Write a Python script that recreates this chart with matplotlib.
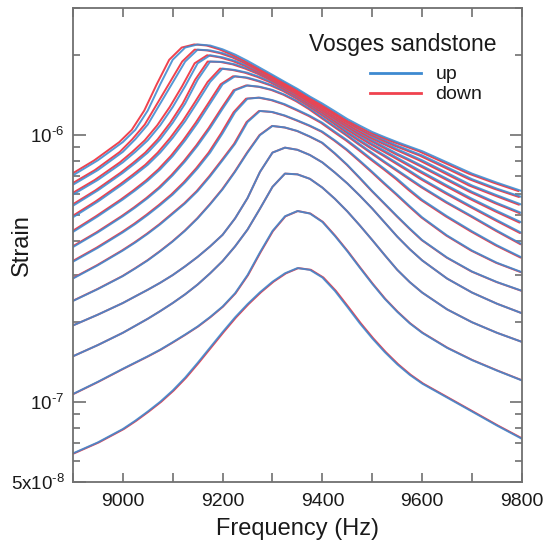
import numpy as np
import matplotlib
matplotlib.use("Agg")
import matplotlib.pyplot as plt
from matplotlib.lines import Line2D
from matplotlib.ticker import FixedLocator, FixedFormatter, MultipleLocator, NullFormatter

plt.rcParams['font.family'] = ['Liberation Sans', 'DejaVu Sans']
plt.rcParams['mathtext.fontset'] = 'custom'
plt.rcParams['mathtext.rm'] = 'Liberation Sans'
plt.rcParams['mathtext.it'] = 'Liberation Sans:italic'
plt.rcParams['mathtext.bf'] = 'Liberation Sans:bold'
plt.rcParams['axes.unicode_minus'] = False

# frequency grid (Hz)
freq = [8900, 8950, 9000, 9025, 9050, 9075, 9100, 9125, 9150, 9175, 9200, 9225, 9250, 9275,
        9300, 9325, 9350, 9375, 9400, 9425, 9450, 9475, 9500, 9525, 9550, 9575, 9600,
        9650, 9700, 9750, 9800]

# strain in units of 1e-7, one list per drive level (lowest first)
strain_1 = [0.640, 0.704, 0.790, 0.849, 0.919, 1.000, 1.102, 1.232, 1.399, 1.598, 1.825, 2.073, 2.324,
            2.576, 2.820, 3.033, 3.173, 3.126, 2.925, 2.607, 2.269, 1.969, 1.729, 1.536, 1.382, 1.262,
            1.170, 1.037, 0.919, 0.814, 0.726]
strain_2 = [1.069, 1.188, 1.329, 1.403, 1.481, 1.568, 1.672, 1.787, 1.916, 2.079, 2.276, 2.553, 2.987,
            3.636, 4.371, 4.963, 5.194, 5.083, 4.728, 4.190, 3.669, 3.183, 2.770, 2.433, 2.175, 1.969,
            1.814, 1.593, 1.433, 1.309, 1.202]
strain_3 = [1.481, 1.632, 1.814, 1.927, 2.048, 2.188, 2.346, 2.530, 2.753, 3.033, 3.371, 3.827, 4.425,
            5.304, 6.400, 7.176, 7.130, 6.859, 6.359, 5.773, 5.177, 4.587, 4.041, 3.548, 3.126, 2.812,
            2.568, 2.221, 1.987, 1.814, 1.677]
strain_4 = [1.933, 2.122, 2.346, 2.485, 2.631, 2.795, 2.987, 3.222, 3.495, 3.827, 4.229, 4.874, 5.808,
            7.286, 8.604, 8.980, 8.815, 8.426, 7.905, 7.243, 6.593, 5.931, 5.304, 4.700, 4.165, 3.737,
            3.391, 2.898, 2.568, 2.332, 2.148]
strain_5 = [2.388, 2.647, 2.960, 3.163, 3.391, 3.669, 3.992, 4.384, 4.874, 5.500, 6.264, 7.286, 8.604,
            10.01, 10.83, 10.69, 10.37, 9.887, 9.365, 8.553, 7.741, 6.921, 6.170, 5.535, 4.963, 4.466,
            4.041, 3.474, 3.079, 2.812, 2.607]
strain_6 = [2.898, 3.251, 3.691, 3.957, 4.267, 4.630, 5.069, 5.551, 6.170, 7.005, 8.051, 9.280, 11.20,
            12.33, 12.22, 11.85, 11.36, 10.86, 10.31, 9.566, 8.815, 8.024, 7.286, 6.593, 5.986, 5.417,
            4.919, 4.204, 3.691, 3.321, 3.061]
strain_7 = [3.351, 3.781, 4.319, 4.642, 5.023, 5.467, 5.986, 6.655, 7.511, 8.604, 10.16, 12.19, 13.71,
            13.83, 13.54, 13.06, 12.44, 11.82, 11.13, 10.31, 9.566, 8.815, 8.099, 7.466, 6.859, 6.246,
            5.722, 4.963, 4.359, 3.863, 3.474]
strain_8 = [3.804, 4.319, 4.963, 5.353, 5.808, 6.359, 7.070, 7.979, 9.140, 10.63, 12.56, 14.74, 15.37,
            15.19, 14.79, 14.18, 13.42, 12.56, 11.64, 10.79, 10.01, 9.253, 8.578, 7.955, 7.397, 6.878,
            6.397, 5.601, 4.963, 4.384, 3.897]
strain_9 = [4.333, 4.963, 5.737, 6.207, 6.755, 7.441, 8.348, 9.566, 11.13, 13.14, 15.52, 16.64, 16.44,
            15.95, 15.37, 14.65, 13.79, 12.91, 12.00, 11.13, 10.31, 9.591, 8.950, 8.398, 7.858, 7.353,
            6.859, 6.060, 5.386, 4.800, 4.293]
strain_10 = [4.919, 5.635, 6.554, 7.110, 7.741, 8.604, 9.768, 11.29, 13.34, 15.84, 17.78, 17.56, 17.15,
             16.53, 15.80, 14.97, 14.09, 13.18, 12.30, 11.43, 10.63, 9.918, 9.280, 8.736, 8.223, 7.741,
             7.286, 6.474, 5.773, 5.194, 4.700]
strain_11 = [5.434, 6.207, 7.219, 7.858, 8.604, 9.652, 11.13, 13.14, 16.14, 18.89, 18.83, 18.44, 17.78,
             17.00, 16.14, 15.23, 14.35, 13.42, 12.52, 11.67, 10.89, 10.18, 9.566, 9.028, 8.525, 8.099,
             7.670, 6.859, 6.133, 5.566, 5.099]
strain_12 = [5.986, 6.796, 7.905, 8.656, 9.566, 10.89, 12.75, 15.28, 18.61, 19.95, 19.59, 19.00, 18.22,
             17.30, 16.39, 15.47, 14.57, 13.62, 12.75, 11.89, 11.13, 10.44, 9.830, 9.334, 8.868, 8.451,
             8.051, 7.219, 6.474, 5.950, 5.483]
strain_13 = [6.515, 7.397, 8.656, 9.652, 10.96, 13.14, 15.75, 18.89, 20.94, 20.80, 20.32, 19.59, 18.66,
             17.62, 16.64, 15.66, 14.74, 13.79, 12.94, 12.11, 11.32, 10.66, 10.07, 9.591, 9.140, 8.759,
             8.398, 7.579, 6.839, 6.300, 5.862]
strain_14 = [7.070, 8.051, 9.421, 10.47, 12.37, 15.52, 19.18, 21.32, 21.90, 21.70, 21.00, 20.07, 19.00,
             17.89, 16.84, 15.84, 14.92, 13.96, 13.14, 12.30, 11.50, 10.86, 10.28, 9.830, 9.421, 9.056,
             8.711, 7.905, 7.176, 6.635, 6.170]

curves = [strain_1, strain_2, strain_3, strain_4, strain_5, strain_6, strain_7,
          strain_8, strain_9, strain_10, strain_11, strain_12, strain_13, strain_14]

# frequency offset of the down sweep relative to the up sweep (Hz), per level
down_shift = [2, 1, 0, 0, -1, -2, -3, -3, -4, -5, -5, -6, -6, -7]

blue = '#3d8ad0'
red = '#f0424e'

fig = plt.figure(figsize=(5.46, 5.48), dpi=100)
ax = fig.add_axes([0.1335, 0.1204, 0.8225, 0.8650])

f = np.array(freq, dtype=float)
for s, sh in zip(curves, down_shift):
    y = np.array(s) * 1e-7
    ax.plot(f + sh, y, color=red, lw=1.4, solid_joinstyle='round', solid_capstyle='round')
    ax.plot(f, y, color=blue, lw=1.4, alpha=0.88, solid_joinstyle='round', solid_capstyle='round')

ax.set_xlim(8900, 9800)
ax.set_yscale('log')
ax.set_ylim(5e-8, 3e-6)

ax.xaxis.set_major_locator(MultipleLocator(200))
ax.xaxis.set_minor_locator(MultipleLocator(100))
ax.yaxis.set_major_locator(FixedLocator([5e-8, 1e-7, 1e-6]))
ax.yaxis.set_major_formatter(FixedFormatter([r'5x10$^{\text{-8}}$',
                                             r'10$^{\text{-7}}$',
                                             r'10$^{\text{-6}}$']))
minor_y = [6e-8, 7e-8, 8e-8, 9e-8] + [k * 1e-7 for k in range(2, 10)] + [2e-6, 3e-6]
ax.yaxis.set_minor_locator(FixedLocator(minor_y))
ax.yaxis.set_minor_formatter(NullFormatter())

edge = '#707070'
for sp in ax.spines.values():
    sp.set_color(edge)
    sp.set_linewidth(1.3)

ax.tick_params(axis='x', which='both', direction='in', top=True, length=6.5, width=1.2,
               color=edge, labelsize=14, pad=8, labelcolor='#1a1a1a')
ax.tick_params(axis='y', which='major', direction='in', right=True, length=9, width=1.2,
               color=edge, labelsize=13.5, pad=6, labelcolor='#1a1a1a')
ax.tick_params(axis='y', which='minor', direction='in', right=True, length=5, width=1.2,
               color=edge)

ax.set_xlabel('Frequency (Hz)', fontsize=17, labelpad=6, color='#1a1a1a')
ax.set_ylabel('Strain', fontsize=17, color='#1a1a1a')
ax.yaxis.set_label_coords(-0.088, 0.5)

ax.text(0.944, 0.922, 'Vosges sandstone', transform=ax.transAxes, ha='right', va='center',
        fontsize=16.5, color='#1a1a1a')
handles = [Line2D([], [], color=blue, lw=2.0), Line2D([], [], color=red, lw=2.0)]
leg = ax.legend(handles, ['up', 'down'], loc='upper left', bbox_to_anchor=(0.662, 0.878),
                frameon=False, fontsize=14, handlelength=2.6, handletextpad=0.75,
                labelspacing=0.12, borderpad=0, borderaxespad=0)
for t in leg.get_texts():
    t.set_color('#1a1a1a')

fig.savefig('out.png', dpi=100, facecolor='white')
